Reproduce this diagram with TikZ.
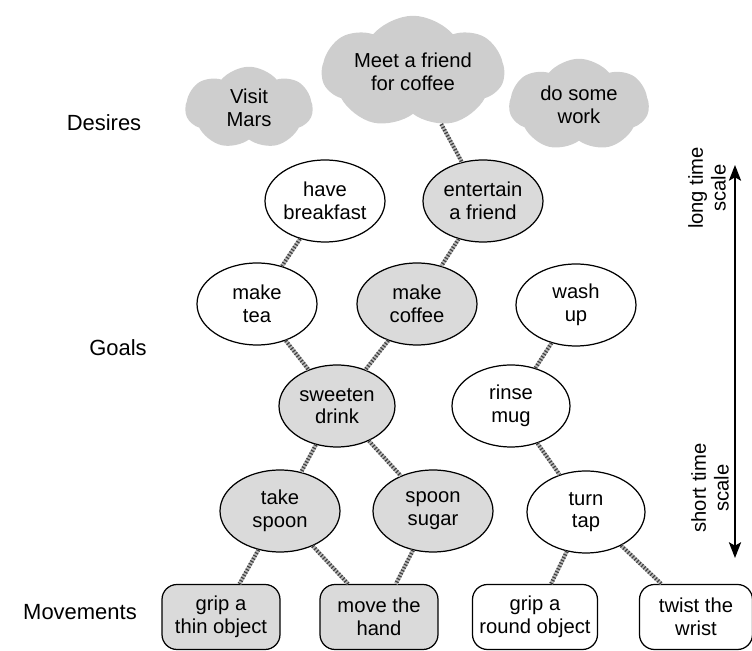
\documentclass[tikz,border=0pt]{standalone}
\usepackage{fontspec}
\setmainfont{Liberation Sans}
\usetikzlibrary{shapes.geometric,shapes.symbols,arrows.meta}
\definecolor{cloudgray}{RGB}{206,206,206}
\definecolor{nodegray}{RGB}{218,218,218}

\begin{document}
\begin{tikzpicture}[x=0.02cm,y=-0.02cm,font=\fontsize{11.5}{13}\selectfont,
	wish/.style={cloud,cloud puffs=7,cloud puff arc=100,cloud ignores aspect,fill=cloudgray,align=center,inner sep=0pt},
	goal/.style={ellipse,draw,line width=0.7pt,align=center,minimum width=2.4cm,minimum height=1.64cm,inner sep=0pt},
	shaded/.style={fill=nodegray},
	move/.style={rectangle,draw,line width=0.7pt,rounded corners=0.3cm,align=center,minimum width=2.36cm,minimum height=1.3cm,inner sep=1pt},
	rope/.style={draw=gray!55,line width=2.2pt,postaction={draw=black!75,line width=2.2pt,dash pattern=on 0.7pt off 1.1pt}},
	level/.style={font=\fontsize{12.5}{14}\selectfont}] 
\useasboundingbox (0,0) rectangle (752,651);
% levels
\node [level] (desires) at (104,123) {Desires};
\node [level] (goals) at (118,348) {Goals};
\node [level] (movements) at (80,612) {Movements};
% desires
\node [wish,minimum width=2.55cm,minimum height=1.65cm] (mars) at (249,108) {Visit\\Mars};
\node [wish,minimum width=3.65cm,minimum height=2.25cm] (friend) at (413,72) {Meet a friend\\for coffee};
\node [wish,minimum width=2.8cm,minimum height=1.85cm] (work) at (579,105) {do some\\work};
% goals
\node [goal] (breakfast) at (325,201) {have\\breakfast};
\node [goal,shaded] (entertain) at (483,201) {entertain\\a friend};
\node [goal] (tea) at (257,304) {make\\tea};
\node [goal,shaded] (coffee) at (417,304) {make\\coffee};
\node [goal] (wash) at (576,305) {wash\\up};
\node [goal,shaded,minimum width=2.32cm] (sweeten) at (337,406) {sweeten\\drink};
\node [goal,minimum width=2.36cm] (rinse) at (511,406) {rinse\\mug};
\node [goal,shaded] (spoon) at (280,511) {take\\spoon};
\node [goal,shaded] (sugar) at (433,511) {spoon\\sugar};
\node [goal,minimum width=2.36cm] (tap) at (586,512) {turn\\tap};
% movements
\node [move,shaded] (thin) at (221,617) {grip a\\thin object};
\node [move,shaded] (hand) at (379,617) {move the\\hand};
\node [move,minimum width=2.5cm] (round) at (535,617) {grip a\\round object};
\node [move,minimum width=2.26cm] (wrist) at (696,617) {twist the\\wrist};
% links
\draw [rope] (friend) -- (entertain);
\draw [rope] (entertain) -- (coffee);
\draw [rope] (breakfast) -- (tea);
\draw [rope] (tea) -- (sweeten);
\draw [rope] (coffee) -- (sweeten);
\draw [rope] (wash) -- (rinse);
\draw [rope] (rinse) -- (tap);
\draw [rope] (sweeten) -- (spoon);
\draw [rope] (sweeten) -- (sugar);
\draw [rope] (spoon) -- (thin);
\draw [rope] (spoon) -- (hand);
\draw [rope] (sugar) -- (hand);
\draw [rope] (tap) -- (round);
\draw [rope] (tap) -- (wrist);
% time scale
\coordinate (long) at (735,165);
\coordinate (short) at (735,558);
\draw [{Stealth[length=9pt,width=7pt,inset=2pt]}-{Stealth[length=9pt,width=7pt,inset=2pt]},line width=0.8pt] (short) -- (long);
\node [rotate=90,align=center] (longlbl) at (707,188) {long time\\scale};
\node [rotate=90,align=center] (shortlbl) at (710,488) {short time\\scale};
\end{tikzpicture}
\end{document}
